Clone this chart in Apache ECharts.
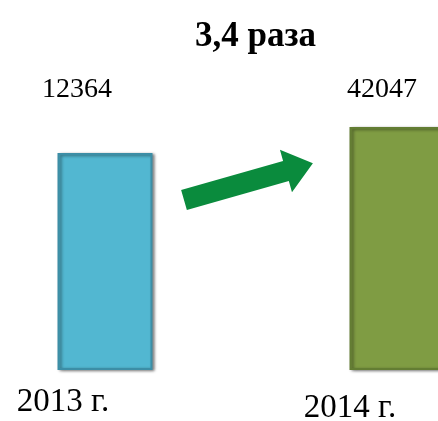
<!DOCTYPE html>
<html>
<head>
<meta charset="utf-8">
<script src="https://cdn.jsdelivr.net/npm/echarts@6/dist/echarts.min.js"></script>
<style>
  html, body { margin: 0; padding: 0; background: #fff; }
  #chart { width: 438px; height: 421px; }
</style>
</head>
<body>
<div id="chart"></div>
<script>
// данные
const years = ['2013 г.', '2014 г.'];
const values = [12364, 42047];
const barColors = ['#52B7D1', '#7F9C43'];
const barBorders = ['#3C8EA6', '#637D33'];

// рисунок не в масштабе, поэтому ось начинается далеко ниже нуля
const yMin = -235000;
const yMax = 61500;

// смещения подписей значений (как на слайде)
const labelOffsets = [[-28, -44], [-15, -18]];

const ratio = (values[1] / values[0]).toFixed(1).replace('.', ',') + ' раза';

var chart = echarts.init(document.getElementById('chart'));

var seriesData = values.map(function (v, i) {
  return {
    value: v,
    itemStyle: {
      color: barColors[i],
      borderColor: barBorders[i],
      borderWidth: 2,
      shadowColor: 'rgba(0,0,0,0.45)',
      shadowBlur: 3,
      shadowOffsetX: 2,
      shadowOffsetY: 1
    },
    label: { offset: labelOffsets[i] }
  };
});

var option = {
  animation: false,
  title: {
    text: ratio,
    left: 190,
    top: 14,
    textStyle: {
      fontFamily: 'Liberation Serif',
      fontSize: 35,
      fontWeight: 'bold',
      color: '#000'
    }
  },
  grid: {
    left: -41,
    right: -105,
    top: 110,
    bottom: 51,
    outerBoundsMode: 'none',
    containLabel: false
  },
  xAxis: {
    type: 'category',
    data: years,
    axisLine: { show: false },
    axisTick: { show: false },
    axisLabel: {
      margin: 16,
      interval: 0,
      formatter: function (val, idx) {
        return idx === 0 ? '{a|' + val + '}' : '{b|' + val + '}';
      },
      rich: {
        a: {
          fontFamily: 'Liberation Serif',
          fontSize: 33,
          color: '#000',
          padding: [0, 84, 0, 0]
        },
        b: {
          fontFamily: 'Liberation Serif',
          fontSize: 33,
          color: '#000',
          padding: [6, 94, 0, 0]
        }
      }
    }
  },
  yAxis: {
    type: 'value',
    min: yMin,
    max: yMax,
    startValue: yMin,
    show: false,
    splitLine: { show: false }
  },
  series: [
    {
      type: 'bar',
      barWidth: 95,
      data: seriesData,
      label: {
        show: true,
        position: 'top',
        formatter: '{c}',
        fontFamily: 'Liberation Serif',
        fontSize: 28,
        color: '#000'
      }
    }
  ],
  graphic: [
    {
      type: 'polygon',
      x: 184,
      y: 200,
      rotation: 0.277,
      shape: {
        points: [[0, -10.5], [106, -10.5], [106, -22], [134, 0], [106, 22], [106, 10.5], [0, 10.5]]
      },
      style: { fill: '#0A8B3D' }
    }
  ]
};

chart.setOption(option);
</script>
</body>
</html>
